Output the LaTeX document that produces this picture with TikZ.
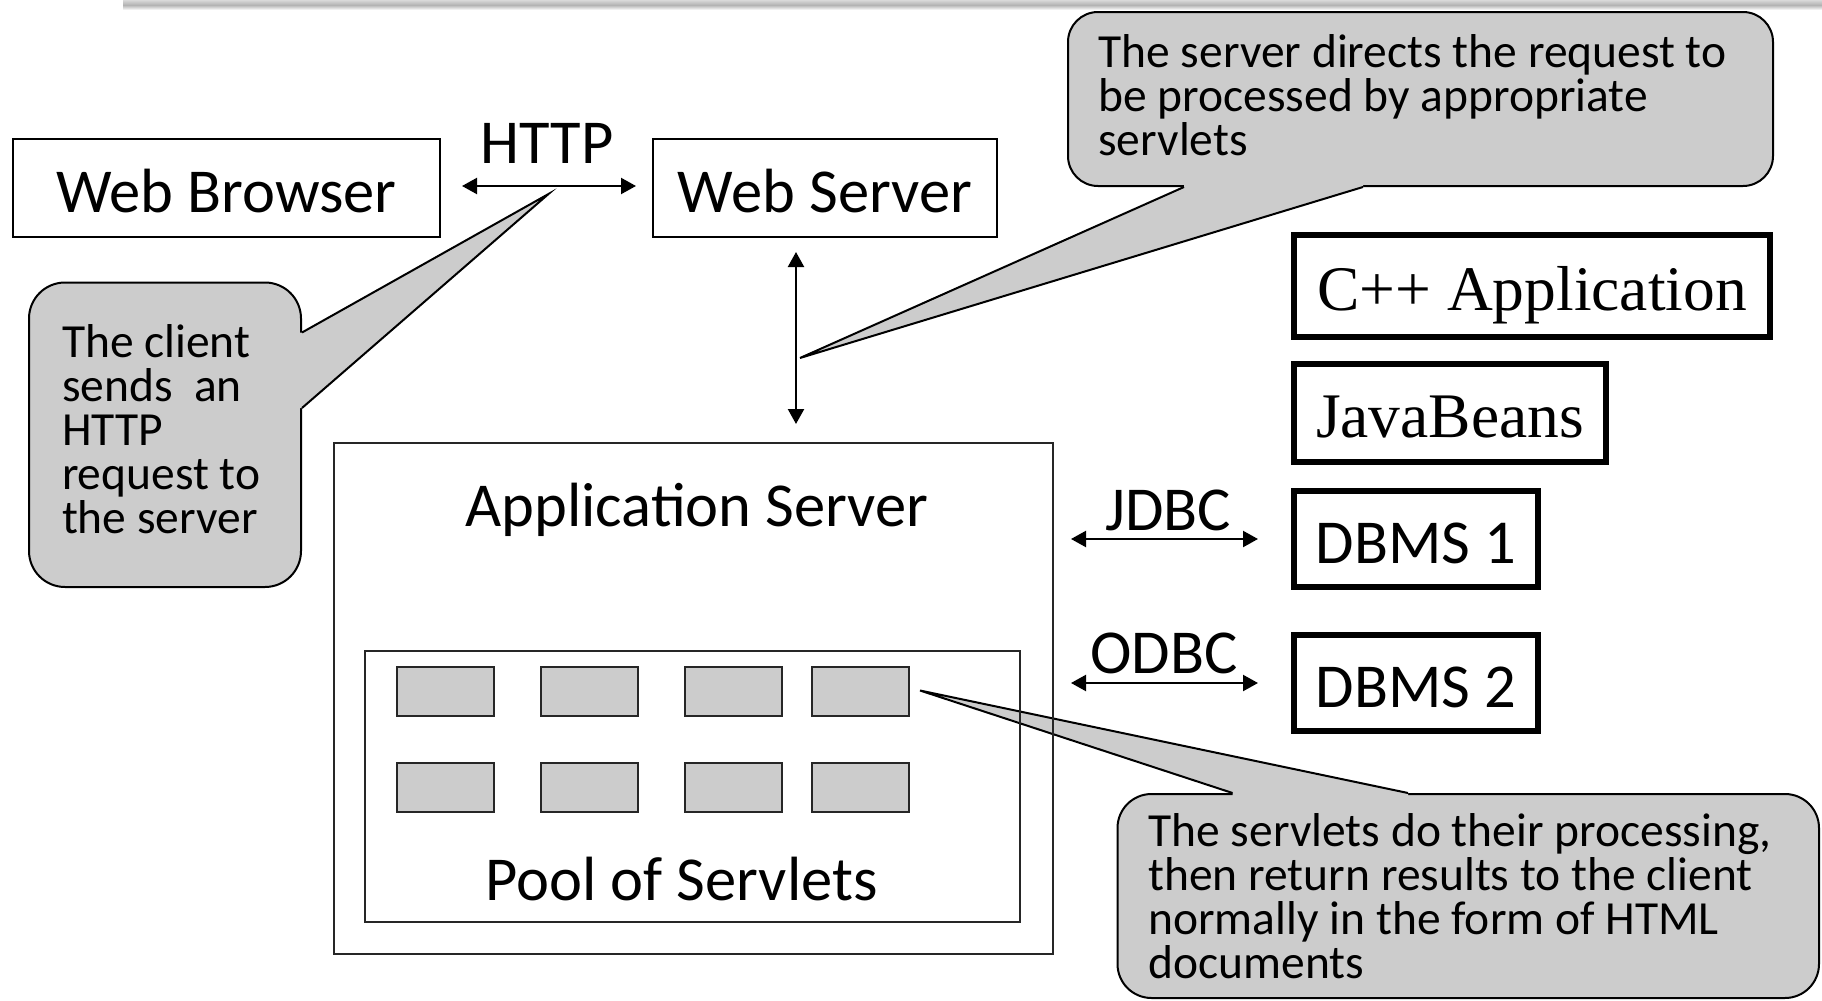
\documentclass[tikz,border=0pt]{standalone}
\usepackage{fontspec}
\setmainfont{Carlito}
\newfontfamily\romanface{Liberation Serif}
\usetikzlibrary{arrows.meta,calc}
\definecolor{boxgray}{RGB}{204,204,204}
\newcommand\lblfont{\fontsize{31.25pt}{36pt}\selectfont}
\newcommand\romanlbl{\romanface\fontsize{31.75pt}{36pt}\selectfont}
\newcommand\notefont{\fontsize{23.75pt}{22pt}\selectfont}

\begin{document}
\begin{tikzpicture}[x=0.5pt,y=-0.5pt,
  plainbox/.style={draw, line width=1pt, inner sep=0pt, text height=24pt, text depth=0pt, font=\lblfont},
  heavybox/.style={draw, line width=3pt, inner sep=0pt, text height=24pt, text depth=0pt, font=\romanlbl},
  frame/.style={draw=black!85, line width=1pt, inner sep=0pt},
  servlet/.style={draw=black!85, line width=1pt, fill=boxgray, minimum width=48.5pt, minimum height=24.5pt, inner sep=0pt},
  bubble/.style={draw, line width=1pt, fill=boxgray, rounded corners=17pt, inner sep=0pt},
  pointer/.style={draw, line width=1pt, line join=miter},
  link/.style={{Triangle[length=7.5pt,width=8pt]}-{Triangle[length=7.5pt,width=8pt]}, line width=1.1pt},
  lbl/.style={font=\lblfont, inner sep=0pt, anchor=base},
  note/.style={inner sep=0pt, anchor=base west}]

\useasboundingbox (0,0) rectangle (1822,1001);

% header strip with its soft shadow
\shade[top color=gray!30, bottom color=gray!60] (123,0) rectangle (1822,5);
\shade[top color=gray!60, bottom color=white] (123,5) rectangle (1822,10);

% callout about the servlets (behind the application server frames)
\node[bubble, minimum width=350.75pt, minimum height=102pt] (c3) at (1468.25,896) {};
\coordinate (tip3) at (920,690.5);
\fill[boxgray] ($(c3.north west)+(116,3)$) -- ($(c3.north west)+(116,0)$) -- (tip3)
  -- ($(c3.north west)+(291.5,0)$) -- ($(c3.north west)+(291.5,3)$) -- cycle;
\draw[pointer] ($(c3.north west)+(116,0)$) -- (tip3) -- ($(c3.north west)+(291.5,0)$);
\node[note] (t3) at (1148,846) {\parbox[t]{345pt}{\notefont\raggedright
  The servlets do their processing,\\ then return results to the client\\
  normally in the form of HTML\\ documents}};

% application server with its pool of servlets
\node[frame, minimum width=359.75pt, minimum height=255.5pt] (app) at (693.25,698.5) {};
\node[lbl] (apptitle) at (697,526) {Application Server};
\node[frame, minimum width=327.5pt, minimum height=135.5pt] (pool) at (692.5,786.5) {};
\node[lbl] (pooltitle) at (681.5,900) {Pool of Servlets};
\foreach \x [count=\i] in {445.1,589,733.2,860.9} {
  \node[servlet] (sa\i) at (\x,691.2) {};
  \node[servlet] (sb\i) at (\x,787) {};
}

% browser and web server
\node[plainbox, minimum width=213.5pt, minimum height=49pt] (wb) at (226.5,188) {Web Browser};
\node[plainbox, minimum width=172pt, minimum height=49pt] (ws) at (825,188) {Web Server};
\draw[link] ($(wb.east)+(21,-2)$) -- ($(ws.west)+(-16,-2)$);
\node[lbl] (http) at (547,163) {HTTP};

% callout about the client request
\node[bubble, minimum width=136pt, minimum height=152.25pt, rounded corners=18pt] (c2) at (165,434.75) {};
\coordinate (tip2) at (548.5,194);
\fill[boxgray] ($(c2.north east)+(-3,51)$) -- ($(c2.north east)+(0,51)$) -- (tip2)
  -- ($(c2.north east)+(0,126.5)$) -- ($(c2.north east)+(-3,126.5)$) -- cycle;
\draw[pointer] ($(c2.north east)+(0,51)$) -- (tip2) -- ($(c2.north east)+(0,126.5)$);
\node[note] (t2) at (61.6,357) {\parbox[t]{120pt}{\notefont\raggedright
  The client\\ sends~~an\\ HTTP\\ request to\\ the server}};

% callout about request dispatching
\node[bubble, minimum width=352.5pt, minimum height=87pt, rounded corners=15pt] (c1) at (1420.5,99) {};
\coordinate (tip1) at (800,358);
\fill[boxgray] ($(c1.south west)+(117,-3)$) -- ($(c1.south west)+(117,0)$) -- (tip1)
  -- ($(c1.south west)+(296,0)$) -- ($(c1.south west)+(296,-3)$) -- cycle;
\draw[pointer] ($(c1.south west)+(117,0)$) -- (tip1) -- ($(c1.south west)+(296,0)$);
\node[note] (t1) at (1098,67) {\parbox[t]{345pt}{\notefont\raggedright
  The server directs the request to\\ be processed by appropriate\\ servlets}};

% web server <-> application server
\draw[link] ($(ws.south west)+(144,14)$) -- ($(ws.south west |- app.north)+(144,-18)$);

% back-end components
\node[heavybox, minimum width=238pt, minimum height=51pt] (cpp) at (1532,286) {C++ Application};
\node[heavybox, minimum width=156pt, minimum height=49pt] (jb) at (1450,413) {JavaBeans};
\node[heavybox, font=\lblfont, minimum width=122pt, minimum height=48pt] (db1) at (1416,539) {DBMS 1};
\node[heavybox, font=\lblfont, minimum width=122pt, minimum height=48pt] (db2) at (1416,683) {DBMS 2};

\draw[link] ($(app.east |- db1.west)+(17,0)$) -- ($(db1.west)+(-33,0)$);
\node[lbl] (jdbc) at (1168,530) {JDBC};
\draw[link] ($(app.east |- db2.west)+(17,0)$) -- ($(db2.west)+(-33,0)$);
\node[lbl] (odbc) at (1164,673) {ODBC};

\end{tikzpicture}
\end{document}
